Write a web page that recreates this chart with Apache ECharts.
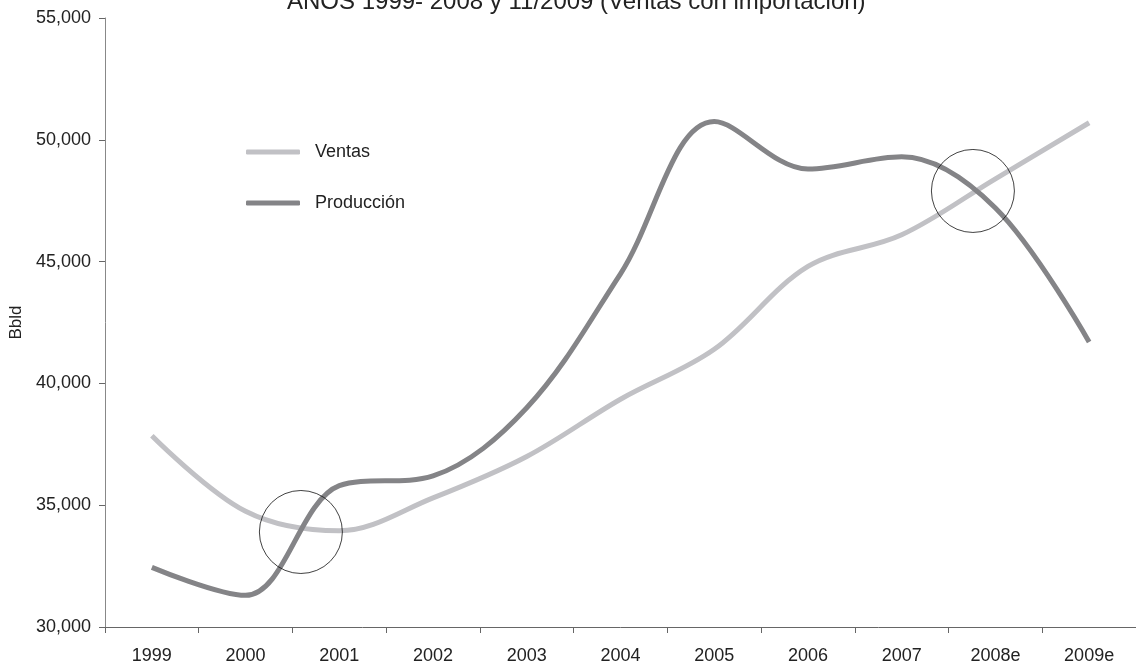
<!DOCTYPE html>
<html>
<head>
<meta charset="UTF-8">
<title>Ventas y Producción</title>
<script src="https://cdn.jsdelivr.net/npm/echarts@6/dist/echarts.min.js"></script>
<style>
  *{margin:0;padding:0;}
  body{background:#fff;}
  #main{width:1136px;height:665px;}
</style>
</head>
<body>
<div id="main"></div>
<script>
// datos
var years = ['1999','2000','2001','2002','2003','2004','2005','2006','2007','2008e','2009e'];
var ventas = [37850, 34750, 33950, 35300, 37000, 39350, 41400, 44800, 46100, 48400, 50700];
var produccion = [32450, 31300, 35800, 36200, 39000, 44500, 50750, 48800, 49300, 47200, 41700];
var yTicks = [30000, 35000, 40000, 45000, 50000, 55000];
// circulos de los cruces (posicion en categorias, valor)
var cruces = [[1.59, 33900], [8.76, 47900]];

var myChart = echarts.init(document.getElementById('main'));

var option = {
  animation: false,
  title: {
    text: 'AÑOS 1999- 2008 y 11/2009 (Ventas con importación)',
    left: 287,
    top: -10,
    padding: 0,
    textStyle: {fontFamily: 'Liberation Sans', fontSize: 24, fontWeight: 'normal', color: '#222'}
  },
  legend: {
    orient: 'vertical',
    left: 246,
    top: 142,
    padding: 0,
    itemWidth: 54,
    itemHeight: 5,
    itemGap: 31,
    icon: 'roundRect',
    data: ['Ventas', 'Producción'],
    textStyle: {fontFamily: 'Liberation Sans', fontSize: 18, color: '#222', lineHeight: 20, padding: [0, 0, 0, 10]}
  },
  grid: {left: 105, top: 18, bottom: 36, width: 1037},
  xAxis: [
    {
      type: 'category',
      data: years,
      boundaryGap: true,
      axisLine: {onZero: false, lineStyle: {color: '#666', width: 1}},
      axisTick: {show: true, length: 6, interval: 0, lineStyle: {color: '#666'}},
      axisLabel: {interval: 0, margin: 20, fontFamily: 'Liberation Sans', fontSize: 18, color: '#222'},
      splitLine: {show: false}
    },
    {
      type: 'value',
      min: -0.5,
      max: years.length - 0.5,
      show: false
    }
  ],
  yAxis: {
    type: 'value',
    min: yTicks[0],
    max: yTicks[yTicks.length - 1],
    interval: 5000,
    name: 'Bbld',
    nameLocation: 'middle',
    nameGap: 80,
    nameTextStyle: {fontFamily: 'Liberation Sans', fontSize: 17, color: '#222'},
    axisLine: {show: true, onZero: false, lineStyle: {color: '#888', width: 1}},
    axisTick: {show: true, length: 6, lineStyle: {color: '#666'}},
    axisLabel: {
      margin: 14,
      fontFamily: 'Liberation Sans', fontSize: 18, color: '#222',
      formatter: function (v) { return v.toLocaleString('en-US'); }
    },
    splitLine: {show: false}
  },
  series: [
    {
      name: 'Ventas',
      type: 'line',
      data: ventas,
      smooth: 0.35,
      symbol: 'none',
      lineStyle: {color: '#c1c1c5', width: 5},
      itemStyle: {color: '#c1c1c5'}
    },
    {
      name: 'Producción',
      type: 'line',
      data: produccion,
      smooth: 0.35,
      symbol: 'none',
      lineStyle: {color: '#848487', width: 5},
      itemStyle: {color: '#848487'}
    },
    {
      name: 'cruces',
      type: 'scatter',
      xAxisIndex: 1,
      data: cruces,
      symbol: 'circle',
      symbolSize: 83,
      silent: true,
      z: 5,
      itemStyle: {color: 'rgba(0,0,0,0)', borderColor: '#111', borderWidth: 1}
    }
  ]
};

myChart.setOption(option);
</script>
</body>
</html>
